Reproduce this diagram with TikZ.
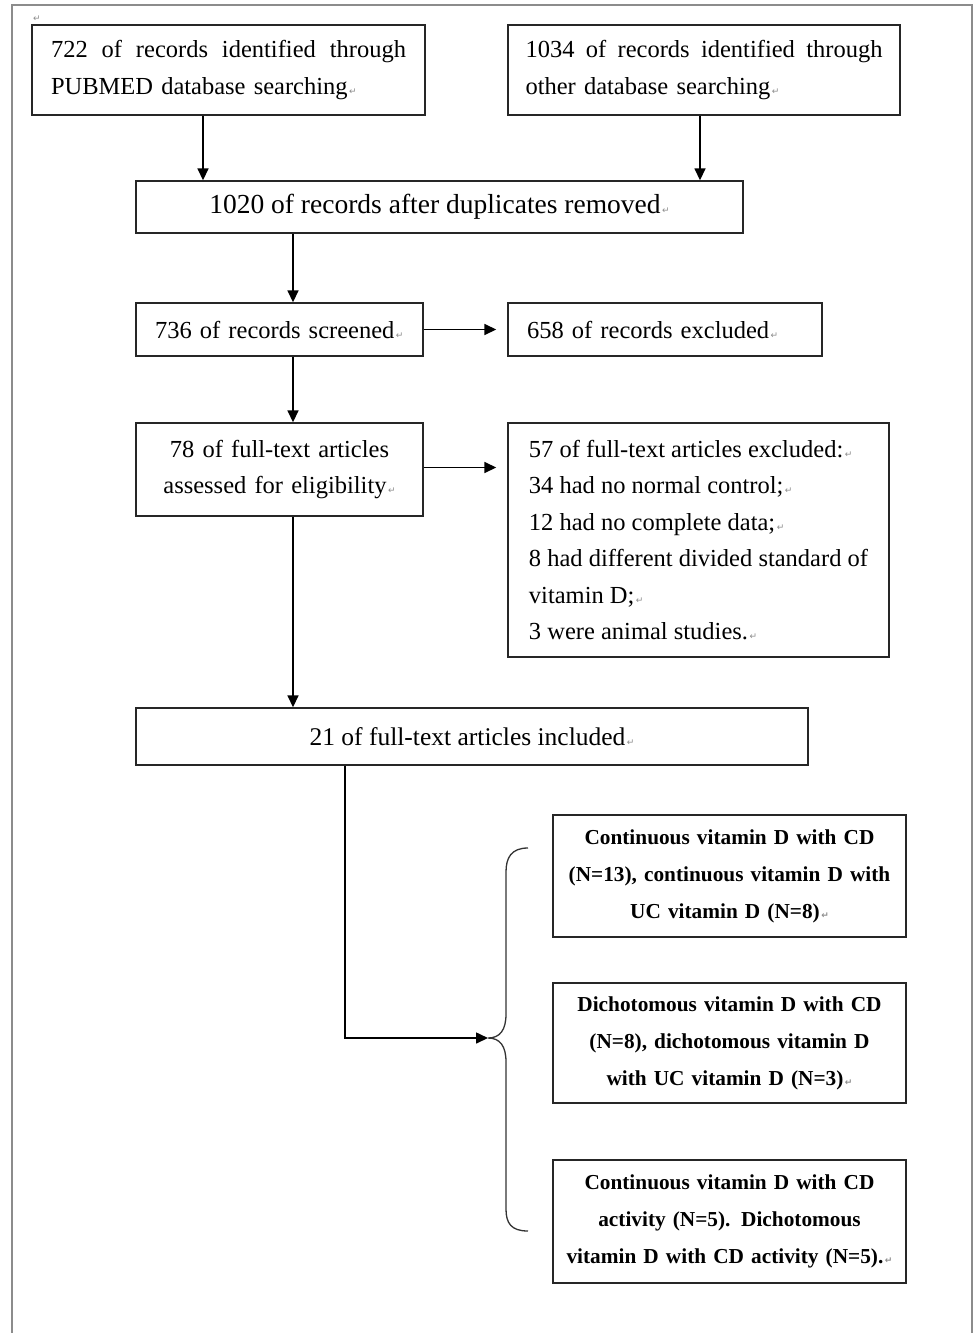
\documentclass[tikz,border=0pt]{standalone}
\usepackage{fontspec}
\setmainfont{Liberation Serif}
\newfontfamily\dejavu{DejaVu Sans}
\usetikzlibrary{arrows.meta,calc}
\newcommand\retmark{{\dejavu\fontsize{9}{9}\selectfont\color{black!45}\,↵}}
\begin{document}
\begin{tikzpicture}[x=1pt,y=-1pt,
  box/.style={draw=black!85, line width=1.4pt, inner sep=0pt, fill=white},
  reg/.style={font=\fontsize{24.5}{36.5}\selectfont},
  bld/.style={font=\fontsize{21.3}{37}\selectfont\bfseries, align=center, text width=340pt},
  arr/.style={line width=1.6pt, -{Triangle[length=12pt,width=11pt]}},
  frame/.style={draw=black!45, line width=1.3pt}
]
\useasboundingbox (0,0) rectangle (973,1333);
\fill[white] (0,0) rectangle (973,1333);
\draw[frame] (12,1333) -- (12,5) -- (972,5) -- (972,1333);

\node[font=\dejavu\fontsize{9}{9}\selectfont, text=black!45, inner sep=0pt] (m0) at (37,19) {↵};

\node[box, reg, minimum width=393pt, minimum height=90pt, text width=355pt, align=left] (A) at (228.5,70)
  {\hbox to 355pt{722\hfill of\hfill records\hfill identified\hfill through}\\PUBMED database searching\retmark};
\node[box, reg, minimum width=392pt, minimum height=90pt, text width=357pt, align=left] (B) at (704,70)
  {\hbox to 357pt{1034\hfill of\hfill records\hfill identified\hfill through}\\other database searching\retmark};
\node[box, font=\fontsize{27.5}{33}\selectfont, minimum width=607pt, minimum height=52pt] (C) at (439.5,207)
  {1020 of records after duplicates removed\retmark};
\node[box, reg, minimum width=287pt, minimum height=53pt, text width=249pt, align=left] (D) at (279.5,329.5)
  {736 of records screened\retmark};
\node[box, reg, minimum width=314pt, minimum height=53pt, text width=276pt, align=left] (E) at (665,329.5)
  {658 of records excluded\retmark};
\node[box, reg, minimum width=287pt, minimum height=93pt, text width=260pt, align=center] (F) at (279.5,469.5)
  {78 of full-text articles\\assessed for eligibility\retmark};
\node[box, reg, minimum width=381pt, minimum height=234pt, align=left] (G) at (698.5,540)
  {57 of full-text articles excluded:\retmark\\34 had no normal control;\retmark\\12 had no complete data;\retmark\\8 had different divided standard of\\vitamin D;\retmark\\3 were animal studies.\retmark};
\node[box, font=\fontsize{25.5}{33}\selectfont, minimum width=672pt, minimum height=57pt] (H) at (472,736.5)
  {21 of full-text articles included\retmark};

\node[box, bld, minimum width=353pt, minimum height=122pt] (I) at (729.5,876)
  {Continuous vitamin D with CD\\(N=13), continuous vitamin D with\\UC vitamin D (N=8)\retmark};
\node[box, bld, minimum width=353pt, minimum height=120pt] (J) at (729.5,1043)
  {Dichotomous vitamin D with CD\\(N=8), dichotomous vitamin D\\with UC vitamin D (N=3)\retmark};
\node[box, bld, minimum width=353pt, minimum height=123pt] (K) at (729.5,1221.5)
  {Continuous vitamin D with CD\\activity (N=5). Dichotomous\\vitamin D with CD activity (N=5).\retmark};

% connectors
\path ([xshift=-25.5pt]A.south) coordinate (a1);
\draw[arr] (a1) -- (a1 |- C.north);
\path ([xshift=-4pt]B.south) coordinate (b1);
\draw[arr] (b1) -- (b1 |- C.north);
\path ([xshift=-146.5pt]C.south) coordinate (c1);
\draw[arr] (c1) -- (c1 |- D.north);
\path ([xshift=13.5pt]D.south) coordinate (d1);
\draw[arr] (d1) -- (d1 |- F.north);
\draw[arr, shorten >=11pt] (D.east) -- (E.west);
\draw[arr, shorten >=11pt] ([yshift=2pt]F.east) -- ([yshift=2pt]F.east -| G.west);
\path ([xshift=13.5pt]F.south) coordinate (f1);
\draw[arr] (f1) -- (f1 |- H.north);

% brace
\coordinate (tip) at (488,1038);
\draw[line width=1.3pt, black!80]
  (528,848) .. controls (511,848) and (506,858) .. (506,872) -- (506,1014)
  .. controls (506,1030) and (500,1038) .. (tip)
  .. controls (500,1038) and (506,1046) .. (506,1062) -- (506,1209)
  .. controls (506,1223) and (511,1231) .. (528,1231);
\path ([xshift=-127pt]H.south) coordinate (h1);
\draw[arr] (h1) |- (tip);
\end{tikzpicture}
\end{document}
